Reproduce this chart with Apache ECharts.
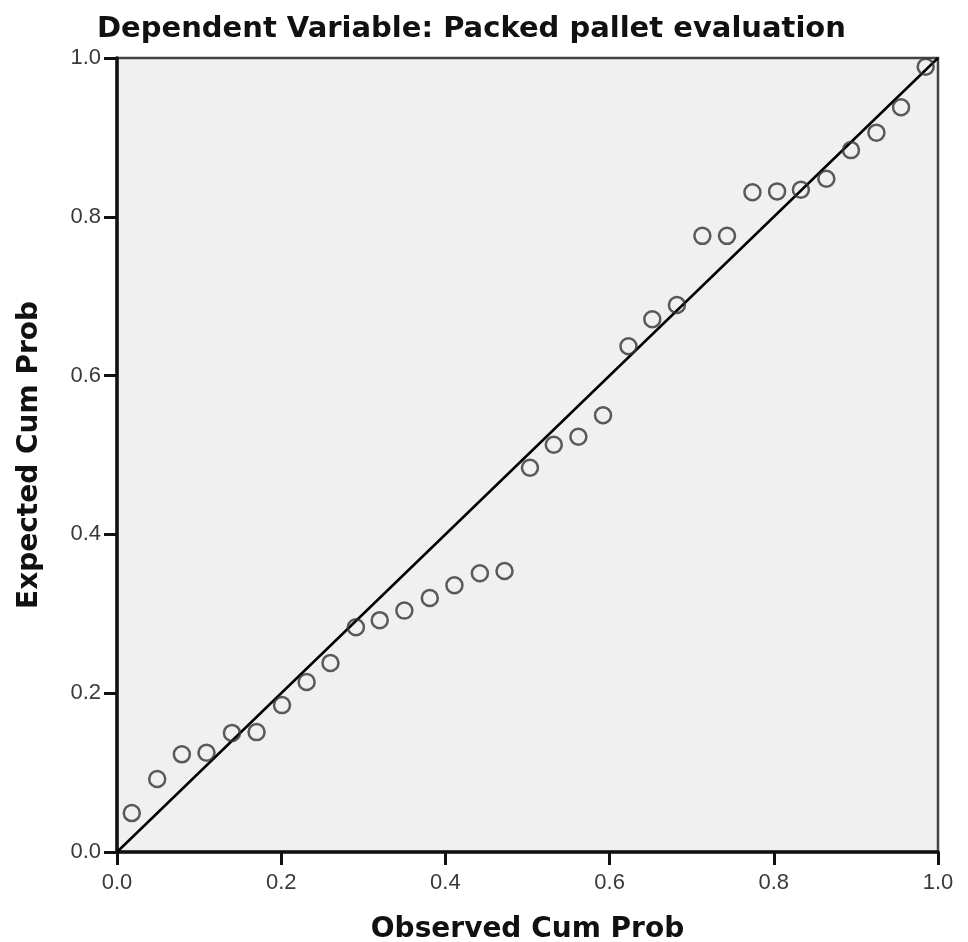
<!DOCTYPE html>
<html>
<head>
<meta charset="utf-8">
<script src="https://cdn.jsdelivr.net/npm/echarts@6/dist/echarts.min.js"></script>
<style>
  html, body { margin: 0; padding: 0; background: #fff; }
  #chart { width: 968px; height: 942px; }
</style>
</head>
<body>
<div id="chart"></div>
<script>
// P-P plot of regression standardized residuals
const observed = [
  0.018, 0.049, 0.079, 0.109, 0.140, 0.170, 0.201, 0.231, 0.260, 0.291, 0.320,
  0.350, 0.381, 0.411, 0.442, 0.472, 0.503, 0.532, 0.562, 0.592, 0.623, 0.652,
  0.682, 0.713, 0.743, 0.774, 0.804, 0.833, 0.864, 0.894, 0.925, 0.955, 0.985
];
const expected = [
  0.049, 0.092, 0.123, 0.125, 0.150, 0.151, 0.185, 0.214, 0.238, 0.283, 0.292,
  0.304, 0.320, 0.336, 0.351, 0.354, 0.484, 0.513, 0.523, 0.550, 0.637, 0.671,
  0.689, 0.776, 0.776, 0.831, 0.832, 0.834, 0.848, 0.884, 0.906, 0.938, 0.989
];
const refLine = [[0, 0], [1, 1]];

const points = observed.map((x, i) => [x, expected[i]]);

const TITLE_FONT = '"DejaVu Sans", Verdana, sans-serif';
const LABEL_FONT = '"Liberation Sans", Arial, sans-serif';

const axisCommon = {
  type: 'value',
  min: 0,
  max: 1,
  interval: 0.2,
  nameLocation: 'middle',
  nameTextStyle: { color: '#111', fontFamily: TITLE_FONT, fontWeight: 'bold', fontSize: 28 },
  axisLine: { show: true, lineStyle: { color: '#111', width: 3.5 } },
  axisTick: { show: true, inside: false, length: 13, lineStyle: { color: '#111', width: 3 } },
  axisLabel: {
    color: '#3a3a3a', fontFamily: LABEL_FONT, fontSize: 22,
    formatter: v => v.toFixed(1)
  },
  splitLine: { show: false }
};

const chart = echarts.init(document.getElementById('chart'), null, { renderer: 'canvas' });
chart.setOption({
  animation: false,
  backgroundColor: '#fff',
  title: {
    text: 'Dependent Variable: Packed pallet evaluation',
    left: 92,
    top: 10,
    textStyle: { color: '#111', fontFamily: TITLE_FONT, fontWeight: 'bold', fontSize: 29 }
  },
  grid: {
    left: 117, right: 30, top: 58, bottom: 90,
    outerBoundsMode: 'none',
    containLabel: false,
    show: true,
    backgroundColor: '#F0F0F0',
    borderColor: '#444',
    borderWidth: 2.5
  },
  xAxis: Object.assign({}, axisCommon, {
    name: 'Observed Cum Prob',
    nameGap: 64,
    axisLabel: Object.assign({}, axisCommon.axisLabel, { margin: 20 })
  }),
  yAxis: Object.assign({}, axisCommon, {
    name: 'Expected Cum Prob',
    nameGap: 73,
    axisLabel: Object.assign({}, axisCommon.axisLabel, { margin: 16 })
  }),
  series: [
    {
      type: 'line',
      data: refLine,
      symbol: 'none',
      lineStyle: { color: '#000', width: 2.5 },
      silent: true,
      z: 2
    },
    {
      type: 'scatter',
      data: points,
      symbol: 'circle',
      symbolSize: 16,
      itemStyle: { color: 'rgba(0,0,0,0)', borderColor: '#333', borderWidth: 2.5 },
      z: 3
    }
  ]
});
</script>
</body>
</html>
